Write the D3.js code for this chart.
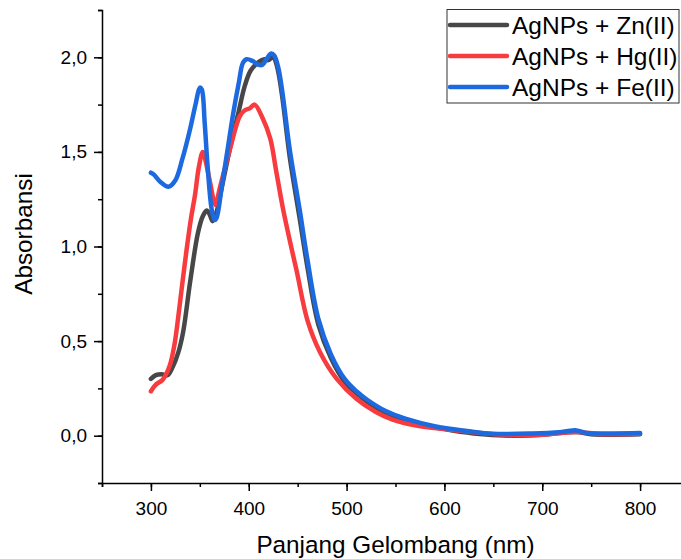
<!DOCTYPE html>
<html>
<head>
<meta charset="utf-8">
<script src="https://cdn.jsdelivr.net/npm/d3@7"></script>
<style>
  body { margin: 0; background: #fff; }
  svg { display: block; font-family: Arial, "Liberation Sans", sans-serif; }
</style>
</head>
<body>
<svg id="chart" width="681" height="559"></svg>
<script>
// [wavelength nm, absorbance]
const znData = [
  [300, 0.30], [305, 0.32], [311, 0.325], [317, 0.32], [322, 0.36], [328, 0.44],
  [333, 0.55], [340, 0.81], [348, 1.07], [353, 1.16], [357, 1.19], [360, 1.17],
  [363, 1.134], [367, 1.18], [372, 1.30], [380, 1.50], [390, 1.72], [396, 1.85],
  [402, 1.93], [410, 1.975], [416, 1.99], [420, 1.985], [425, 2.0], [429, 1.95],
  [434, 1.80], [442, 1.47], [452, 1.15], [460, 0.89], [471, 0.59], [484, 0.41],
  [498, 0.285], [510, 0.225], [521, 0.18], [540, 0.12], [560, 0.08], [600, 0.035],
  [630, 0.012], [670, 0.0], [700, 0.005], [735, 0.02], [750, 0.008], [800, 0.008]
];
const hgData = [
  [300, 0.235], [305, 0.27], [312, 0.296], [319, 0.367], [324, 0.48], [328, 0.63],
  [332, 0.80], [336.5, 0.984], [341, 1.15], [345, 1.27], [349, 1.42], [353, 1.50],
  [356, 1.45], [360, 1.35], [366, 1.22], [370, 1.30], [380, 1.50], [391, 1.69],
  [396, 1.72], [401, 1.73], [406, 1.75], [414, 1.68], [422, 1.57], [428, 1.40],
  [435, 1.20], [442, 1.03], [449, 0.87], [460, 0.61], [473, 0.44], [490, 0.30],
  [510, 0.195], [530, 0.125], [547, 0.085], [570, 0.055], [600, 0.035], [630, 0.018],
  [660, 0.005], [700, 0.005], [735, 0.02], [760, 0.008], [800, 0.01]
];
const feData = [
  [300, 1.39], [303, 1.38], [310, 1.34], [318, 1.316], [325, 1.35], [332, 1.46],
  [340, 1.62], [346, 1.76], [350, 1.84], [352, 1.83], [355, 1.65], [358, 1.42],
  [362, 1.20], [365, 1.14], [367, 1.15], [372, 1.30], [378, 1.50], [384, 1.70],
  [390, 1.87], [394, 1.97], [398, 1.99], [404, 1.98], [410, 1.96], [414, 1.96],
  [418, 1.99], [423, 2.02], [426, 2.01], [430, 1.95], [434, 1.83], [442, 1.51],
  [452, 1.196], [460, 0.93], [471, 0.62], [484, 0.43], [498, 0.30], [510, 0.235],
  [521, 0.19], [540, 0.13], [560, 0.09], [590, 0.05], [623, 0.025], [650, 0.01],
  [690, 0.012], [720, 0.02], [735, 0.028], [745, 0.015], [770, 0.012], [800, 0.014]
];
const seriesNames = ["AgNPs + Zn(II)", "AgNPs + Hg(II)", "AgNPs + Fe(II)"];
const seriesColors = ["#474747", "#f73b3f", "#1d6ae0"];
const xTicks = [300, 400, 500, 600, 700, 800];
const yTicks = [0, 0.5, 1.0, 1.5, 2.0];

const svg = d3.select('#chart');

const x = d3.scaleLinear().domain([250, 850]).range([102, 689]);
const y = d3.scaleLinear().domain([-0.25, 2.25]).range([483, 10]);

const fmt = d => d3.format('.1f')(d).replace('.', ',');

// x axis
const xAxis = svg.append('g').attr('transform', 'translate(0,483)');
xAxis.call(d3.axisBottom(x).tickValues(d3.range(250, 851, 50)).tickSize(4).tickFormat(''));
xAxis.append('g').call(d3.axisBottom(x).tickValues(xTicks).tickSize(8).tickFormat(d => d))
  .call(g => g.select('.domain').remove());
xAxis.selectAll('.domain').attr('stroke', '#000').attr('stroke-width', 1.5);
xAxis.selectAll('.tick line').attr('stroke', '#000').attr('stroke-width', 1.5);
xAxis.selectAll('.tick text').attr('font-size', 19).attr('font-family', 'Arial, "Liberation Sans", sans-serif')
  .attr('fill', '#000').attr('dy', '1.1em');

// y axis
const yAxis = svg.append('g').attr('transform', 'translate(102,0)');
yAxis.call(d3.axisLeft(y).tickValues(d3.range(-0.25, 2.26, 0.25)).tickSize(4).tickFormat(''));
yAxis.append('g').call(d3.axisLeft(y).tickValues(yTicks).tickSize(8).tickFormat(fmt))
  .call(g => g.select('.domain').remove());
yAxis.selectAll('.domain').attr('stroke', '#000').attr('stroke-width', 1.5);
yAxis.selectAll('.tick line').attr('stroke', '#000').attr('stroke-width', 1.5);
yAxis.selectAll('.tick text').attr('font-size', 19).attr('font-family', 'Arial, "Liberation Sans", sans-serif')
  .attr('fill', '#000').attr('x', -15);

// axis titles
svg.append('text')
  .attr('x', 395.5).attr('y', 553)
  .attr('text-anchor', 'middle')
  .attr('font-size', 24.3)
  .text('Panjang Gelombang (nm)');

svg.append('text')
  .attr('transform', 'translate(32,234) rotate(-90)')
  .attr('text-anchor', 'middle')
  .attr('font-size', 24.3)
  .text('Absorbansi');

// curves
const line = d3.line()
  .x(d => x(d[0]))
  .y(d => y(d[1]))
  .curve(d3.curveCatmullRom.alpha(0.5));

[znData, hgData, feData].forEach((data, i) => {
  svg.append('path')
    .datum(data)
    .attr('d', line)
    .attr('fill', 'none')
    .attr('stroke', seriesColors[i])
    .attr('stroke-width', 4.5)
    .attr('stroke-linecap', 'round')
    .attr('stroke-linejoin', 'round');
});

// legend
const legend = svg.append('g');
legend.append('rect')
  .attr('x', 447).attr('y', 9.5).attr('width', 232).attr('height', 93.5)
  .attr('fill', '#fff').attr('stroke', '#333').attr('stroke-width', 1);

seriesNames.forEach((name, i) => {
  const cy = 25 + i * 31;
  legend.append('line')
    .attr('x1', 450).attr('x2', 507).attr('y1', cy).attr('y2', cy)
    .attr('stroke', seriesColors[i]).attr('stroke-width', 4.5)
    .attr('stroke-linecap', 'round');
  legend.append('text')
    .attr('x', 512).attr('y', cy + 8.5)
    .attr('font-size', 24.5)
    .text(name);
});
</script>
</body>
</html>
